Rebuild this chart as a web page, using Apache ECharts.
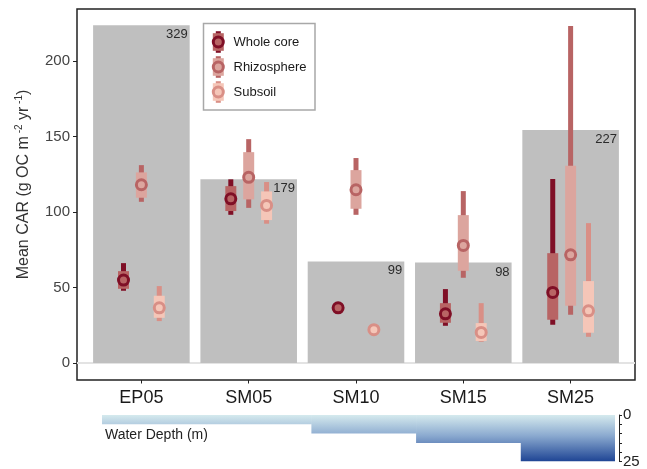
<!DOCTYPE html>
<html><head><meta charset="utf-8">
<script src="https://cdn.jsdelivr.net/npm/echarts@6/dist/echarts.min.js"></script>
<style>html,body{margin:0;padding:0;background:#fff}#c{width:647px;height:469px}</style>
</head><body><div id="c"></div>
<script>
// ---- data ----
const sites = ['EP05', 'SM05', 'SM10', 'SM15', 'SM25'];
const carTotals = [329, 179, 99, 98, 227];          // grey bar labels
const groupNames = ['Whole core', 'Rhizosphere', 'Subsoil'];

const wholeThinLo  = [47.9, 98.2, 36.6, 24.7, 25.4];
const wholeThickLo = [49.2, 100.7, 36.6, 26.7, 28.7];
const wholeMid     = [55.0, 108.8, 36.6, 32.6, 46.8];
const wholeThickHi = [60.9, 117.2, 36.6, 39.7, 72.8];
const wholeThinHi  = [66.2, 121.7, 36.6, 49.0, 121.9];

const rhizoThinLo  = [106.8, 102.8, 98.2, 56.5, 32.0];
const rhizoThickLo = [109.5, 108.4, 102.2, 61.1, 38.0];
const rhizoMid     = [118.1, 123.0, 114.8, 77.9, 71.7];
const rhizoThickHi = [126.3, 139.7, 127.8, 98.0, 130.7];
const rhizoThinHi  = [131.1, 148.3, 135.8, 113.9, 223.2];

const subThinLo  = [27.8, 92.3, 21.5, 14.1, 17.4];
const subThickLo = [30.0, 94.7, 21.5, 14.6, 20.1];
const subMid     = [36.6, 104.4, 22.1, 20.3, 34.6];
const subThickHi = [44.6, 113.7, 22.7, 26.5, 54.3];
const subThinHi  = [51.0, 119.9, 22.7, 39.7, 92.7];

const waterDepth = [5, 5, 10, 15, 25];
const yTicks = [0, 50, 100, 150, 200];
const depthTicksLabelled = [0, 25];

// ---- styling ----
const FONT = 'Liberation Sans, Arial, Helvetica, sans-serif';
const darkCol  = ['#7f0f26', '#b86464', '#d98f86'];
const lightCol = ['#b86464', '#dca59e', '#f5c6b8'];
const yMin = -11.2, yMax = 234.5;
const barScale = 1.47;
const xMin = 0.4, xMax = 5.6;
const depthMax = 25;

function rangeSeries(gi, offset, thinLo, thickLo, mid, thickHi, thinHi) {
  return {
    type: 'custom', name: groupNames[gi], xAxisIndex: 0, yAxisIndex: 0, z: 5,
    data: sites.map((s, i) => [i + 1, thinLo[i], thickLo[i], mid[i], thickHi[i], thinHi[i]]),
    renderItem: (params, api) => {
      const x = api.value(0) + offset;
      const a = api.coord([x, api.value(1)]);
      const b = api.coord([x, api.value(2)]);
      const m = api.coord([x, api.value(3)]);
      const c = api.coord([x, api.value(4)]);
      const d = api.coord([x, api.value(5)]);
      const cx = a[0];
      return { type: 'group', children: [
        { type: 'rect', shape: { x: cx - 2.5, y: d[1], width: 5, height: a[1] - d[1] }, style: { fill: darkCol[gi] } },
        { type: 'rect', shape: { x: cx - 5.5, y: c[1], width: 11, height: b[1] - c[1] }, style: { fill: lightCol[gi] } },
        { type: 'circle', shape: { cx: cx, cy: m[1], r: 5 }, style: { fill: lightCol[gi], stroke: darkCol[gi], lineWidth: 3 } }
      ]};
    }
  };
}

// legend graphic
const legX = 203.5, legY = 23.5;
const legendChildren = [
  { type: 'rect', shape: { x: legX, y: legY, width: 111.5, height: 86.5 }, style: { fill: '#fff', stroke: '#a8a8a8', lineWidth: 1.5 } }
];
groupNames.forEach((n, gi) => {
  const cy = legY + 18.5 + gi * 25;
  const cx = legX + 14.8;
  legendChildren.push(
    { type: 'rect', shape: { x: cx - 2.5, y: cy - 10.8, width: 5, height: 21.6 }, style: { fill: darkCol[gi] } },
    { type: 'rect', shape: { x: cx - 5.5, y: cy - 8.8, width: 11, height: 17.6 }, style: { fill: lightCol[gi] } },
    { type: 'circle', shape: { cx: cx, cy: cy, r: 5 }, style: { fill: lightCol[gi], stroke: darkCol[gi], lineWidth: 3 } },
    { type: 'text', style: { x: legX + 30, y: cy, text: n, fill: '#1a1a1a', font: '13px ' + FONT, verticalAlign: 'middle', align: 'left' } }
  );
});

const chart = echarts.init(document.getElementById('c'), null, { renderer: 'canvas' });
chart.setOption({
  animation: false,
  backgroundColor: '#fff',
  grid: [
    { left: 77, top: 9, width: 558, height: 371, show: true, borderColor: '#222', borderWidth: 1.5, backgroundColor: 'transparent' },
    { left: 102, top: 415, width: 513, height: 51 }
  ],
  xAxis: [
    { type: 'value', gridIndex: 0, min: xMin, max: xMax,
      axisLine: { show: false, onZero: false }, splitLine: { show: false },
      axisTick: { show: true, customValues: [1, 2, 3, 4, 5], length: 3.5, lineStyle: { color: '#222', width: 1 } },
      axisLabel: { customValues: [1, 2, 3, 4, 5], formatter: v => sites[Math.round(v) - 1], fontSize: 18, color: '#1a1a1a', fontFamily: FONT, margin: 9 } },
    { type: 'value', gridIndex: 1, min: 0, max: 4.9, show: false, axisLine: { onZero: false } }
  ],
  yAxis: [
    { type: 'value', gridIndex: 0, min: yMin, max: yMax,
      axisLine: { show: false, onZero: false }, splitLine: { show: false },
      axisTick: { show: true, customValues: yTicks, length: 4, lineStyle: { color: '#222', width: 1 } },
      axisLabel: { customValues: yTicks, fontSize: 15, color: '#444', fontFamily: FONT, margin: 7 },
      name: 'Mean CAR (g OC m{s| -2} yr{s| -1})', nameLocation: 'middle', nameGap: 37,
      nameTextStyle: { fontSize: 16, color: '#333', fontFamily: FONT, padding: [0, 0, 0, 20], lineHeight: 20,
        rich: { s: { fontSize: 10, color: '#333', fontFamily: FONT, verticalAlign: 'top', lineHeight: 12 } } } },
    { type: 'value', gridIndex: 0, min: yMin * barScale, max: yMax * barScale, show: false },
    { type: 'value', gridIndex: 1, min: 0, max: depthMax, interval: 5, inverse: true, position: 'right', offset: 4,
      axisLine: { show: true, onZero: false, lineStyle: { color: '#222', width: 1 } },
      axisTick: { show: true, inside: false, length: 3, lineStyle: { color: '#222', width: 1 } },
      splitLine: { show: false },
      axisLabel: { formatter: v => depthTicksLabelled.includes(v) ? String(v) : '', fontSize: 15, color: '#222', fontFamily: FONT, margin: 4 } }
  ],
  graphic: [
    { type: 'group', children: legendChildren, z: 100 },
    { type: 'text', left: 105, top: 428, style: { text: 'Water Depth (m)', fill: '#222', font: '14px ' + FONT }, z: 100 }
  ],
  series: [
    { type: 'custom', name: 'zero', xAxisIndex: 0, yAxisIndex: 0, z: 1, silent: true,
      data: [[xMin, xMax, 0]],
      renderItem: (params, api) => {
        const p0 = api.coord([api.value(0), api.value(2)]);
        const p1 = api.coord([api.value(1), api.value(2)]);
        return { type: 'line', shape: { x1: p0[0], y1: p0[1], x2: p1[0], y2: p1[1] }, style: { stroke: '#e3e3e3', lineWidth: 2 } };
      } },
    { type: 'custom', name: 'total', xAxisIndex: 0, yAxisIndex: 1, z: 2, silent: true,
      data: carTotals.map((v, i) => [i + 1, v]),
      renderItem: (params, api) => {
        const x = api.value(0);
        const top = api.coord([x, api.value(1)]);
        const bot = api.coord([x, 0]);
        const w = api.size([0.9, 0])[0];
        return { type: 'group', children: [
          { type: 'rect', shape: { x: top[0] - w / 2, y: top[1], width: w, height: bot[1] - top[1] }, style: { fill: '#bfbfbf' } },
          { type: 'text', style: { x: top[0] + w / 2 - 2, y: top[1] + 3, text: String(api.value(1)), align: 'right', verticalAlign: 'top', fill: '#2b2b2b', font: '13px ' + FONT } }
        ]};
      } },
    rangeSeries(0, -1 / 6, wholeThinLo, wholeThickLo, wholeMid, wholeThickHi, wholeThinHi),
    rangeSeries(1, 0, rhizoThinLo, rhizoThickLo, rhizoMid, rhizoThickHi, rhizoThinHi),
    rangeSeries(2, 1 / 6, subThinLo, subThickLo, subMid, subThickHi, subThinHi),
    { type: 'custom', name: 'depth', xAxisIndex: 1, yAxisIndex: 2, clip: true, silent: true,
      data: waterDepth.map((d, i) => [i, d]),
      renderItem: (params, api) => {
        const i = api.value(0);
        const tl = api.coord([i, 0]);
        const br = api.coord([i + 1, api.value(1)]);
        const g0 = api.coord([i, 0])[1];
        const g1 = api.coord([i, depthMax])[1];
        const grad = new echarts.graphic.LinearGradient(0, g0, 0, g1, [
          { offset: 0, color: '#d5eaee' },
          { offset: 0.45, color: '#8aa9cf' },
          { offset: 1, color: '#1e4494' }
        ], true);
        return { type: 'rect', shape: { x: tl[0], y: tl[1], width: br[0] - tl[0] + 0.5, height: br[1] - tl[1] }, style: { fill: grad } };
      } }
  ]
});
</script></body></html>
